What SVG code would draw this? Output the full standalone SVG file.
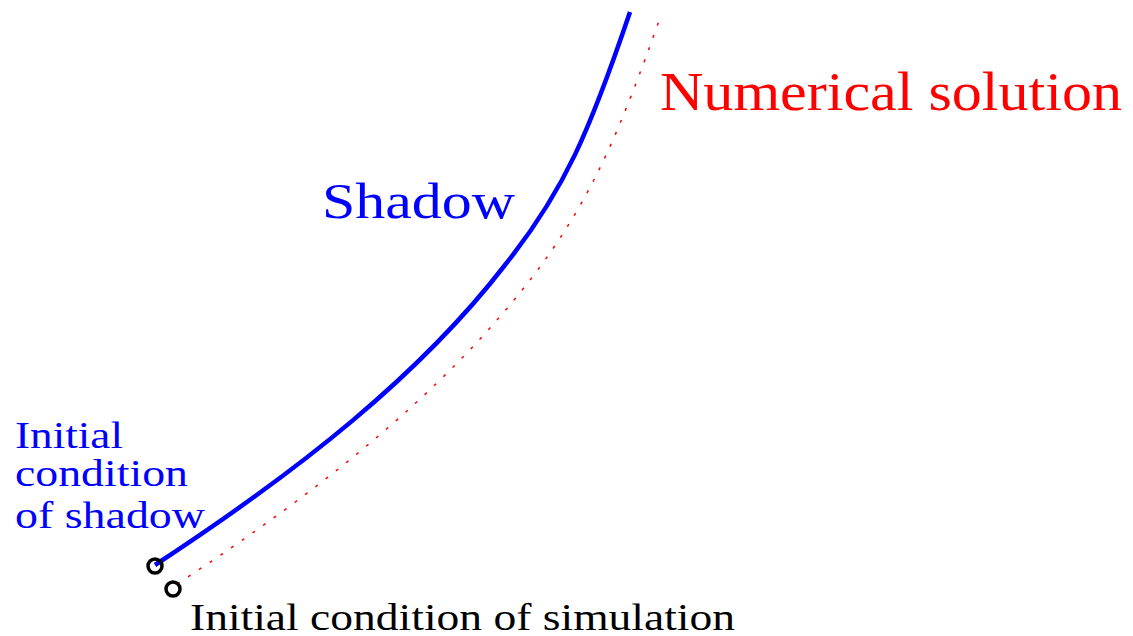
<svg xmlns="http://www.w3.org/2000/svg" width="1133" height="636" viewBox="0 0 1133 636">
<style>
text{font-family:'Liberation Serif','Times New Roman',Times,serif}
.blue{fill:#0000ff}
.red{fill:#ff0000}
.blk{fill:#000}
.ic{fill:none;stroke:#000;stroke-width:3.5}
</style>
<g id="connectors">
<path id="shadow-curve" d="M155,565 C300,470 420,375 505,265 C565,190 590,130 630,12" fill="none" stroke="#0000ff" stroke-width="4.5"/>
<path id="numerical-curve" d="M177,584 C322,490 445,390 530,280 C592,200 620,130 660,18" fill="none" stroke="#ff0000" stroke-width="1.5" stroke-dasharray="3,10"/>
</g>
<g id="ic-shadow"><circle cx="155" cy="566" r="7" class="ic"/></g>
<g id="ic-sim"><circle cx="173" cy="589" r="7" class="ic"/></g>
<g id="label-numerical"><text class="red" x="660" y="110" font-size="54" textLength="462" lengthAdjust="spacingAndGlyphs">Numerical solution</text></g>
<g id="label-shadow"><text class="blue" x="322" y="218" font-size="50" textLength="193" lengthAdjust="spacingAndGlyphs">Shadow</text></g>
<g id="label-ic-shadow">
<text class="blue" x="15" y="448" font-size="38" textLength="108" lengthAdjust="spacingAndGlyphs">Initial</text>
<text class="blue" x="15" y="486" font-size="38" textLength="173" lengthAdjust="spacingAndGlyphs">condition</text>
<text class="blue" x="15" y="528" font-size="38" textLength="190" lengthAdjust="spacingAndGlyphs">of shadow</text>
</g>
<g id="label-ic-sim"><text class="blk" x="190" y="630" font-size="38" textLength="545" lengthAdjust="spacingAndGlyphs">Initial condition of simulation</text></g>
</svg>
